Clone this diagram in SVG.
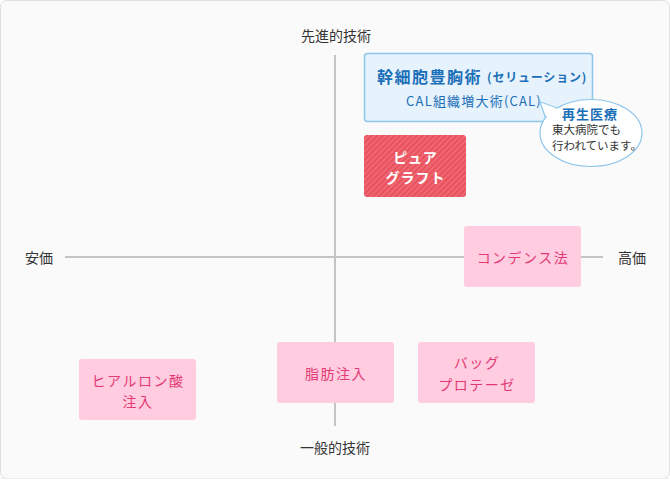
<svg xmlns="http://www.w3.org/2000/svg" width="670" height="480" viewBox="0 0 670 480">
<defs>
<pattern id="stripe" width="4" height="4" patternUnits="userSpaceOnUse" patternTransform="rotate(45)">
<rect width="4" height="4" fill="#e9525f"/>
<rect width="1.5" height="4" fill="#f06e78"/>
</pattern>
<style>
text{font-family:"Noto Sans CJK JP","Noto Sans",sans-serif;text-anchor:middle;dominant-baseline:central}
.ax{font-size:14px;fill:#333}
.pink rect{fill:#ffcce0}
.pink text{font-size:14px;fill:#e33a76;letter-spacing:1.5px}
.axis{stroke:#c4c4c4;stroke-width:2;fill:none}
.note{font-size:11.5px;fill:#333;text-anchor:start}
</style>
</defs>
<rect x="0.5" y="0.5" width="669" height="478" rx="6" fill="#fafafa" stroke="#e0e0e0"/>
<line x1="1" y1="478.5" x2="669" y2="478.5" stroke="#ececec"/>
<g id="connectors">
<line class="axis" x1="65" y1="257" x2="603" y2="257"/>
<line class="axis" x1="335" y1="55" x2="335" y2="426"/>
</g>
<g id="labels">
<text class="ax" x="336" y="35">先進的技術</text>
<text class="ax" x="335" y="447">一般的技術</text>
<text class="ax" x="39" y="257">安価</text>
<text class="ax" x="632" y="257">高価</text>
</g>
<g id="stemcell">
<rect x="364.5" y="53.5" width="228" height="68" rx="3" fill="#e6f2fc" stroke="#8ec5ea" stroke-width="1.5"/>
<text x="482" y="76" style="font-size:16px;font-weight:bold;fill:#1a6fb8;letter-spacing:1.5px">幹細胞豊胸術 <tspan style="font-size:12px;letter-spacing:0.8px">(セリューション)</tspan></text>
<text x="474" y="100" style="font-size:13px;fill:#1a6fb8;letter-spacing:1.2px">CAL組織増大術(CAL)</text>
</g>
<g id="bubble">
<path d="M557,108 L540,102 L547,122" fill="#ffffff" stroke="#8ec5ea" stroke-width="1.2"/>
<ellipse cx="591" cy="133" rx="51" ry="33.5" fill="#ffffff" stroke="#8ec5ea" stroke-width="1.2"/>
<path d="M558,109 L541.5,103 L548.5,121" fill="#ffffff" stroke="none"/>
<text x="590" y="113" style="font-size:13px;font-weight:bold;fill:#1a6fb8;letter-spacing:1px">再生医療</text>
<text class="note" x="552" y="129">東大病院でも</text>
<text class="note" x="552" y="145">行われています。</text>
</g>
<g id="puregraft">
<rect x="364" y="135" width="102" height="62" rx="3" fill="url(#stripe)"/>
<text x="415.5" y="157" style="font-size:14px;font-weight:bold;fill:#fff;letter-spacing:1px">ピュア</text>
<text x="415.5" y="177" style="font-size:14px;font-weight:bold;fill:#fff;letter-spacing:1px">グラフト</text>
</g>
<g id="condense" class="pink">
<rect x="464" y="226" width="117" height="61" rx="3"/>
<text x="523" y="257">コンデンス法</text>
</g>
<g id="hyaluronic" class="pink">
<rect x="79" y="359" width="117" height="61" rx="3"/>
<text x="138" y="380">ヒアルロン酸</text>
<text x="138" y="401">注入</text>
</g>
<g id="fat" class="pink">
<rect x="277" y="342" width="117" height="61" rx="3"/>
<text x="336" y="373">脂肪注入</text>
</g>
<g id="bag" class="pink">
<rect x="418" y="342" width="117" height="61" rx="3"/>
<text x="477" y="362">バッグ</text>
<text x="477" y="384">プロテーゼ</text>
</g>
</svg>
